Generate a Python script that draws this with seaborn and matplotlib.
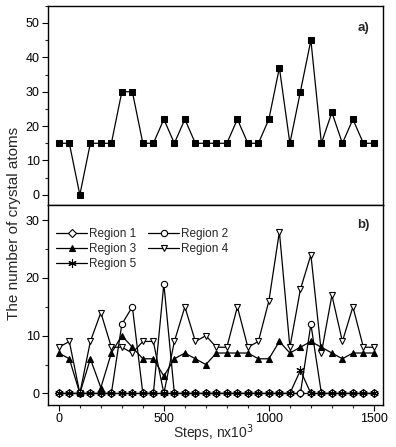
import numpy as np
import matplotlib
matplotlib.use("Agg")
import matplotlib.pyplot as plt
from matplotlib.ticker import MultipleLocator
import seaborn as sns

sns.set_theme(style="ticks")
plt.rcParams["font.family"] = ["Liberation Sans", "DejaVu Sans"]

# ----- donnees -----
steps = list(range(0, 1501, 50))   # 31 points, en unites de 10^3 pas

# panneau a) : nombre total d'atomes cristallins
total = [15, 15, 0, 15, 15, 15, 30, 30, 15, 15, 22, 15, 22, 15, 15, 15,
         15, 22, 15, 15, 22, 37, 15, 30, 45, 15, 24, 15, 22, 15, 15]

# panneau b) : par region
region1 = [0] * 31
region2 = [0, 0, 0, 0, 0, 0, 12, 15, 0, 0, 19, 0, 0, 0, 0, 0,
           0, 0, 0, 0, 0, 0, 0, 0, 12, 0, 0, 0, 0, 0, 0]
region3 = [7, 6, 0, 6, 1, 7, 10, 8, 6, 6, 3, 6, 7, 6, 5, 7,
           7, 7, 7, 6, 6, 9, 7, 8, 9, 8, 7, 6, 7, 7, 7]
region4 = [8, 9, 0, 9, 14, 8, 8, 7, 9, 9, 0, 9, 15, 9, 10, 8,
           8, 15, 8, 9, 16, 28, 8, 18, 24, 7, 17, 9, 15, 8, 8]
region5 = [0, 0, 0, 0, 0, 0, 0, 0, 0, 0, 0, 0, 0, 0, 0, 0,
           0, 0, 0, 0, 0, 0, 0, 4, 0, 0, 0, 0, 0, 0, 0]

fig = plt.figure(figsize=(3.96, 4.47), dpi=100)
ax_a = fig.add_axes([0.121, 0.541, 0.846, 0.446])
ax_b = fig.add_axes([0.121, 0.094, 0.846, 0.447], sharex=ax_a)

lw = 0.9
# --- a) ---
sns.lineplot(x=steps, y=total, ax=ax_a, color="black", lw=lw, marker="s",
             markersize=4, markeredgecolor="black", markerfacecolor="black")
ax_a.set_ylim(-3, 55)
ax_a.yaxis.set_major_locator(MultipleLocator(10))
ax_a.yaxis.set_minor_locator(MultipleLocator(5))
ax_a.tick_params(labelbottom=False)
ax_a.text(0.96, 0.875, "a)", transform=ax_a.transAxes, ha="right",
          fontsize=9.5, fontweight="bold")

# --- b) ---
series = [
    ("Region 1", region1, dict(marker="D", markersize=4, markerfacecolor="white")),
    ("Region 2", region2, dict(marker="o", markersize=4.5, markerfacecolor="white")),
    ("Region 3", region3, dict(marker="^", markersize=5, markerfacecolor="black")),
    ("Region 4", region4, dict(marker="v", markersize=5, markerfacecolor="white")),
    ("Region 5", region5, dict(marker=(6, 2, 0), markersize=6)),
]
for nom, vals, st in series:
    sns.lineplot(x=steps, y=vals, ax=ax_b, color="black", lw=lw, label=nom,
                 markeredgecolor="black", markeredgewidth=0.8, **st)

ax_b.set_ylim(-2, 32.6)
ax_b.yaxis.set_major_locator(MultipleLocator(10))
ax_b.yaxis.set_minor_locator(MultipleLocator(5))
ax_b.text(0.96, 0.885, "b)", transform=ax_b.transAxes, ha="right",
          fontsize=9.5, fontweight="bold")

# legende sur 2 colonnes, lue ligne par ligne
h, l = ax_b.get_legend_handles_labels()
ordre = [0, 2, 4, 1, 3]
ax_b.legend([h[i] for i in ordre], [l[i] for i in ordre], ncol=2,
            loc="upper left", bbox_to_anchor=(0.0, 0.925), frameon=False,
            fontsize=8.5, handlelength=2.6, handletextpad=0.2,
            labelspacing=0.25, columnspacing=1.0, borderaxespad=0.3)

ax_b.set_xlim(-52, 1543)
ax_b.xaxis.set_major_locator(MultipleLocator(500))
ax_b.xaxis.set_minor_locator(MultipleLocator(100))
ax_b.set_xlabel("")

for ax in (ax_a, ax_b):
    for s in ax.spines.values():
        s.set_visible(True)
        s.set_color("black")
        s.set_linewidth(1.0)
    ax.tick_params(direction="out", length=4, width=0.8, labelsize=9,
                   colors="black", pad=2)
    ax.tick_params(which="minor", direction="out", length=2.5, width=0.8)
    ax.set_ylabel("")

fig.text(0.54, 0.03, "Steps, nx10$^3$", ha="center", va="center", fontsize=10)
fig.text(0.035, 0.5, "The number of crystal atoms", rotation=90,
         ha="center", va="center", fontsize=11)

fig.savefig("out.png", dpi=100)
